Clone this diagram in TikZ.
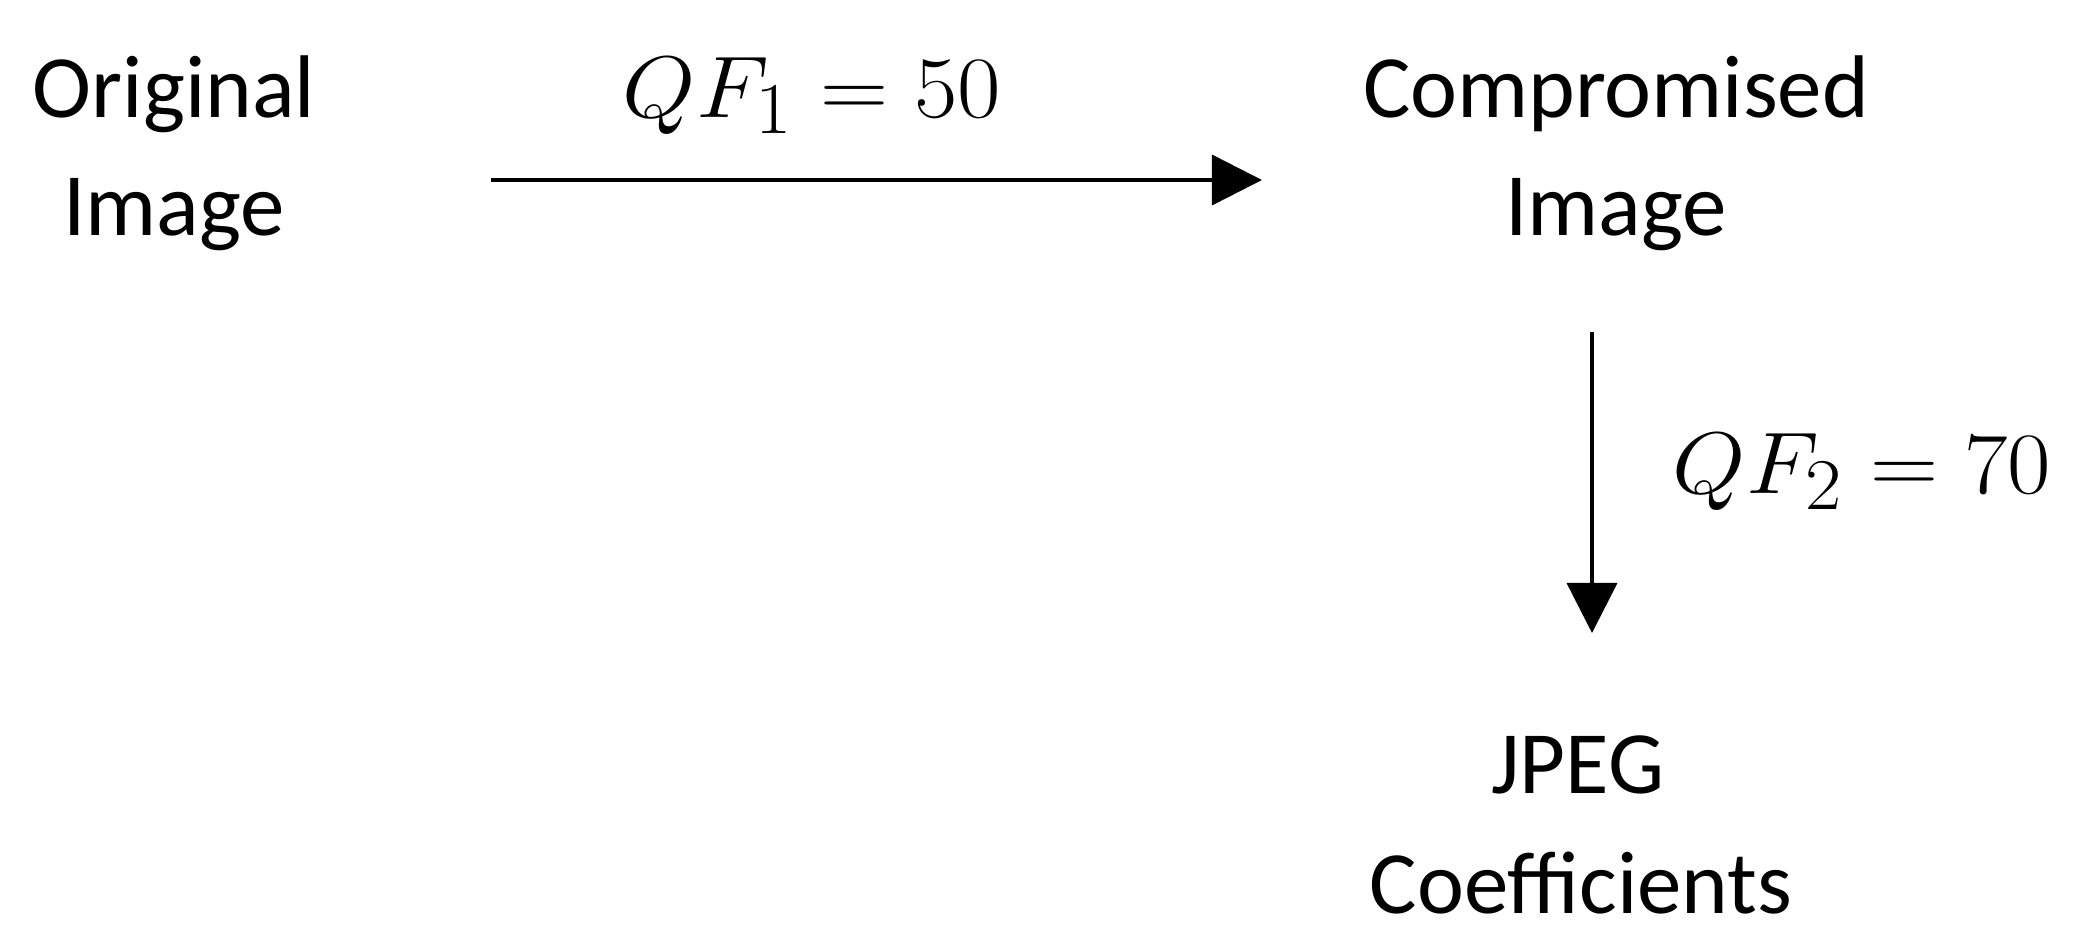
\documentclass[tikz,border=0pt]{standalone}
\usepackage{fontspec}
\usepackage{graphicx}
\setmainfont{Carlito}
\usetikzlibrary{arrows.meta}
\tikzset{
  lbl/.style={anchor=base, inner sep=0pt, font=\fontsize{25.3}{33.5}\selectfont},
  mlbl/.style={anchor=base, inner sep=0pt, font=\fontsize{28}{34}\selectfont},
  flow/.style={line width=1pt, -{Triangle[length=0.5cm,width=0.5cm]}}
}
\newcommand{\mqf}[1]{\scalebox{1.08}[1]{$#1$}}
\begin{document}
\begin{tikzpicture}[x=0.01cm,y=-0.01cm]
\useasboundingbox (0,0) rectangle (2090,951);
\node[lbl] (orig1) at (174,117) {Original};
\node[lbl] (orig2) at (174,235) {Image};
\node[mlbl] (qf1) at (812,117) {\mqf{QF_1 = 50}};
\node[lbl] (comp1) at (1616,117) {Compromised};
\node[lbl] (comp2) at (1616,235) {Image};
\node[mlbl] (qf2) at (1862,493) {\mqf{QF_2 = 70}};
\node[lbl] (jpeg1) at (1578,793) {JPEG};
\node[lbl] (jpeg2) at (1581,913) {Coefficients};
\coordinate (a1s) at (491,180);
\coordinate (a1e) at (1262,180);
\coordinate (a2s) at (1592,332);
\coordinate (a2e) at (1592,633);
\draw[flow] (a1s) -- (a1e);
\draw[flow] (a2s) -- (a2e);
\end{tikzpicture}
\end{document}
